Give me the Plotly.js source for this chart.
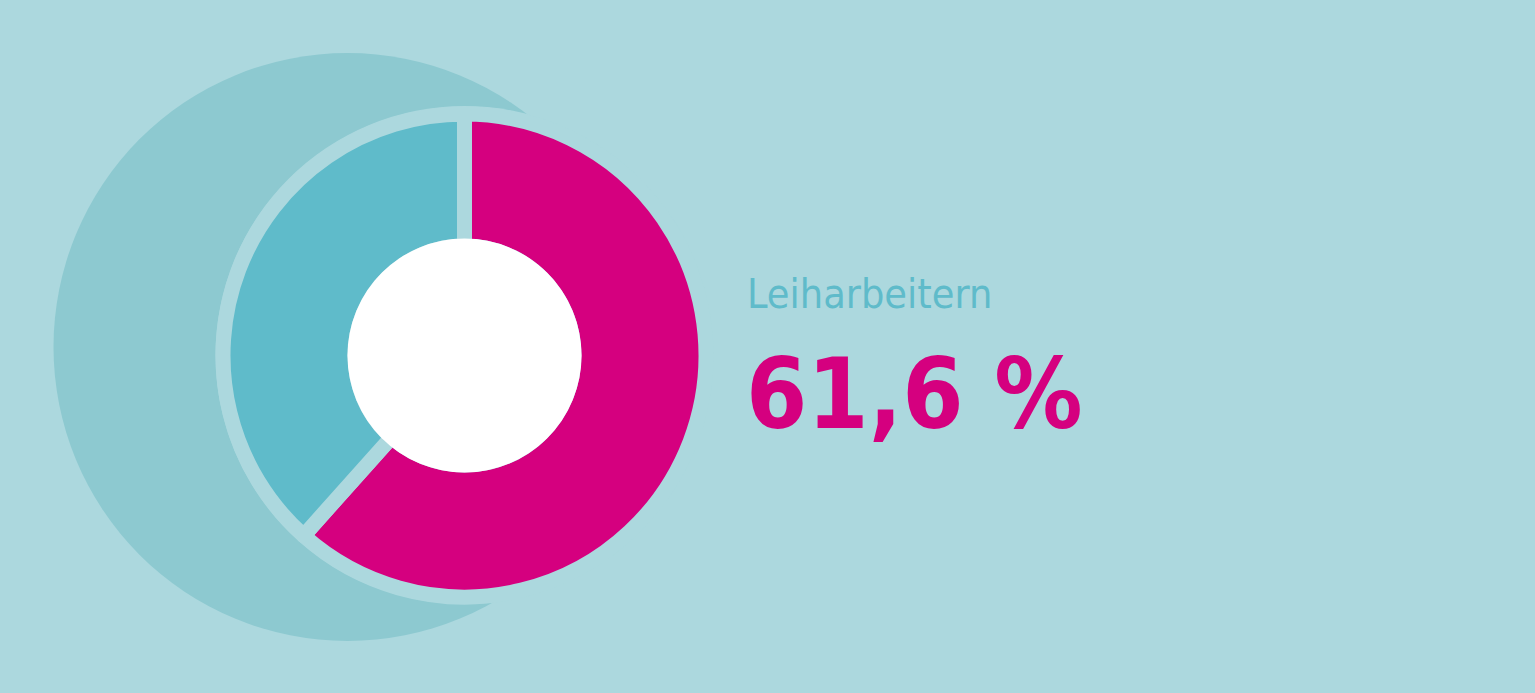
<!DOCTYPE html>
<html>
<head>
<meta charset="utf-8">
<script src="https://cdn.plot.ly/plotly-3.0.1.min.js"></script>
<style>
html,body{margin:0;padding:0;background:#ACD8DE;overflow:hidden;}
#chart{width:1535px;height:693px;}
</style>
</head>
<body>
<div id="chart"></div>
<script>
// Data
var categories = ["Leiharbeitern", "Übrige"];
var shares = [61.6, 38.4];
var sliceColors = ["#D5007F", "#5FBBCA"];
var highlightLabel = categories[0];
var highlightValue = shares[0];

var W = 1535, H = 693;
var BG = "#ACD8DE";
function px(x){ return x / W; }
function py(y){ return 1 - y / H; }

// donut geometry (pixels)
var cx = 464.5, cy = 355.5;
var gap = 15;
var rOuter = 234 + gap/2;
var rInner = 117 - gap/2;

var trace = {
  type: "pie",
  labels: categories,
  values: shares,
  sort: false,
  direction: "clockwise",
  rotation: 0,
  hole: rInner / rOuter,
  textinfo: "none",
  hoverinfo: "label+percent",
  marker: { colors: sliceColors, line: { color: BG, width: gap } },
  domain: { x: [px(cx - rOuter), px(cx + rOuter)], y: [py(cy + rOuter), py(cy - rOuter)] },
  showlegend: false
};

function circle(x, y, r, color, layer){
  return { type: "circle", xref: "paper", yref: "paper", layer: layer,
    x0: px(x - r), x1: px(x + r), y0: py(y + r), y1: py(y - r),
    fillcolor: color, line: { width: 0 } };
}

var valueText = highlightValue.toFixed(1).replace(".", ",") + " %";

var layout = {
  width: W, height: H,
  margin: { l: 0, r: 0, t: 0, b: 0, pad: 0 },
  paper_bgcolor: BG, plot_bgcolor: BG,
  shapes: [
    circle(347.5, 347, 294, "#8DC9D0", "below"),
    circle(464.5, 355, 249, BG, "below"),
    circle(cx, cy, 117, "#FFFFFF", "above")
  ],
  annotations: [
    { xref: "paper", yref: "paper", x: px(745), y: py(294), xanchor: "left", yanchor: "middle",
      text: highlightLabel, showarrow: false,
      font: { family: "Liberation Sans Narrow, DejaVu Sans Condensed, sans-serif", size: 41, color: "#5FBBCA" } },
    { xref: "paper", yref: "paper", x: px(744), y: py(393.5), xanchor: "left", yanchor: "middle",
      text: "<b>" + valueText + "</b>", showarrow: false,
      font: { family: "Liberation Sans Narrow, DejaVu Sans Condensed, sans-serif", size: 98, color: "#D5007F" } }
  ]
};

Plotly.newPlot("chart", [trace], layout, { displayModeBar: false, staticPlot: true });
</script>
</body>
</html>
